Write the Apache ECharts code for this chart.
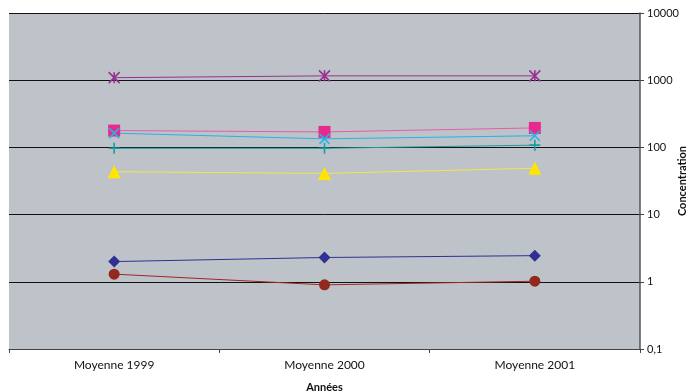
<!DOCTYPE html>
<html><head><meta charset="utf-8">
<script src="https://cdn.jsdelivr.net/npm/echarts@6/dist/echarts.min.js"></script>
<style>html,body{margin:0;padding:0;background:#fff}#c{width:688px;height:392px}</style>
</head><body><div id="c"></div>
<script>
const categories = ['Moyenne 1999', 'Moyenne 2000', 'Moyenne 2001'];
const starSeries = [1090, 1160, 1160];
const squareSeries = [178, 170, 195];
const xSeries = [163, 134, 149];
const plusSeries = [97, 97, 108];
const triangleSeries = [43.5, 41, 49];
const diamondSeries = [2.0, 2.3, 2.45];
const circleSeries = [1.3, 0.9, 1.02];

const font = 'Lato, "Open Sans", sans-serif';
function mk(name, data, color, symbol, size, lineColor, stroke) {
  return {
    name, type: 'line', data, symbol, symbolSize: size, showSymbol: true,
    lineStyle: { color: lineColor || color, width: 1 },
    itemStyle: stroke ? { color: 'rgba(0,0,0,0)', borderColor: color, borderWidth: 1.6 } : { color },
    emphasis: { disabled: true }, animation: false, z: 3
  };
}
const chart = echarts.init(document.getElementById('c'));
chart.setOption({
  animation: false,
  grid: { left: 9, right: 48, top: 13, bottom: 43, outerBoundsMode: 'none', containLabel: false,
    backgroundColor: '#BEC3CA', show: true, borderWidth: 0 },
  xAxis: {
    type: 'category', data: categories, boundaryGap: true,
    axisLine: { lineStyle: { color: '#444', width: 1 } },
    axisTick: { show: true, length: 4, lineStyle: { color: '#444' } },
    axisLabel: { color: '#111', fontFamily: font, fontSize: 12, margin: 10 },
    name: 'Années', nameLocation: 'middle', nameGap: 33, nameMoveOverlap: false,
    nameTextStyle: { fontFamily: font, fontSize: 11, fontWeight: 'bold', color: '#111' }
  },
  yAxis: {
    type: 'log', logBase: 10, min: 0.1, max: 10000, position: 'right',
    axisLine: { show: true, lineStyle: { color: '#555', width: 1.5 } },
    axisTick: { show: true, inside: false, length: 4, lineStyle: { color: '#444' } },
    axisLabel: { color: '#111', fontFamily: font, fontSize: 11, margin: 7,
      formatter: v => String(v).replace('.', ',') },
    splitLine: { show: true, lineStyle: { color: '#111', width: 1 } },
    name: 'Concentration', nameLocation: 'middle', nameGap: 37, nameRotate: 90, nameMoveOverlap: false,
    nameTextStyle: { fontFamily: font, fontSize: 11, fontWeight: 'bold', color: '#111' }
  },
  series: [
    mk('star', starSeries, '#96328F', 'path://M0,0L10,10M10,0L0,10M5,0L5,10', 11, '#96328F', true),
    mk('square', squareSeries, '#E8298D', 'rect', 12, '#EB5AA6'),
    mk('x', xSeries, '#25B3E6', 'path://M0,0L10,10M10,0L0,10', 10, '#25B3E6', true),
    mk('plus', plusSeries, '#1C9CA3', 'path://M5,0L5,10M0,5L10,5', 11, '#1C9CA3', true),
    mk('triangle', triangleSeries, '#FFE500', 'triangle', 13, '#F3E64A'),
    mk('diamond', diamondSeries, '#2E3192', 'diamond', 12, '#2E3192'),
    mk('circle', circleSeries, '#93281F', 'circle', 11, '#9A2A22')
  ]
});
</script></body></html>
